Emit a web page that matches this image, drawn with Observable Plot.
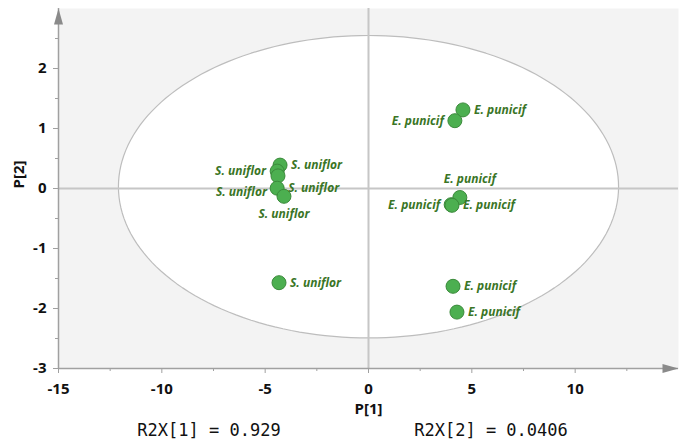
<!DOCTYPE html>
<html><head><meta charset="utf-8">
<script src="https://cdn.jsdelivr.net/npm/d3@7"></script>
<script src="https://cdn.jsdelivr.net/npm/@observablehq/plot@0.6"></script>
<style>
body{margin:0;background:#fff;}
#footer{position:relative;width:684px;height:21px;font-family:"DejaVu Sans Mono",monospace;font-size:17px;color:#111;}
#footer span{position:absolute;top:0;transform:translateX(-50%);white-space:pre;}
</style></head><body>
<div id="chart"></div>
<div id="footer"></div>
<script>
const species = ["S. uniflor","S. uniflor","S. uniflor","S. uniflor","S. uniflor","S. uniflor",
                 "E. punicif","E. punicif","E. punicif","E. punicif","E. punicif","E. punicif","E. punicif"];
const t1 = [-4.28,-4.42,-4.38,-4.42,-4.09,-4.33, 4.57,4.18,4.42,4.00,4.04,4.09,4.28];
const t2 = [0.39,0.29,0.21,0.005,-0.13,-1.57, 1.31,1.13,-0.15,-0.27,-0.28,-1.63,-2.06];
const labelPlacement = ["right","left","lowerleft","right","below","right",
                        "right","left","aboveright","left","right","right","right"];
const xDomain = [-15, 15];
const yDomain = [-3, 3];
const xTicks = [-15,-10,-5,0,5,10];
const xMinorTicks = [-12.5,-7.5,-2.5,2.5,7.5,12.5];
const yTicks = [-3,-2,-1,0,1,2];
const yMinorTicks = [-2.5,-1.5,-0.5,0.5,1.5,2.5];
const ellipseCenter = [0, 0.03];
const ellipseRadii = [12.1, 2.52];
const r2xNames = ["R2X[1]","R2X[2]"];
const r2xValues = ["0.929","0.0406"];
const axisNames = ["P[1]","P[2]"];

const obs = species.map((s,i)=>({species:s, t1:t1[i], t2:t2[i], place:labelPlacement[i]}));
const ellipse = d3.range(0, 361, 2).map(a => ({
  x: ellipseCenter[0] + ellipseRadii[0]*Math.cos(a*Math.PI/180),
  y: ellipseCenter[1] + ellipseRadii[1]*Math.sin(a*Math.PI/180)
}));
const arrowHead = {draw(ctx){ ctx.moveTo(0,0); ctx.lineTo(4.5,16); ctx.lineTo(-4.5,16); ctx.closePath(); }};
const placements = {
  right:{dx:11,dy:0,textAnchor:"start"},
  left:{dx:-11,dy:0,textAnchor:"end"},
  lowerleft:{dx:-11,dy:16,textAnchor:"end"},
  below:{dx:0,dy:18,textAnchor:"middle"},
  aboveright:{dx:10,dy:-18,textAnchor:"middle"}
};
const labelColor = "#3a7526";
const axisGray = "#a0a0a0";
const fmt = d => String(d);

const labelMarks = Object.entries(placements).map(([k,p]) =>
  Plot.text(obs.filter(d=>d.place===k), {x:"t1", y:"t2", text:"species", dx:p.dx, dy:p.dy,
    textAnchor:p.textAnchor, fill:labelColor, fontStyle:"italic", fontWeight:"bold", fontSize:12}));

const chart = Plot.plot({
  width: 684, height: 420,
  marginLeft: 58, marginRight: 6, marginTop: 8, marginBottom: 52,
  style: {fontFamily:"'Open Sans', sans-serif", fontSize:"15px", fontWeight:"bold", color:"#111", background:"#fff"},
  x: {domain: xDomain},
  y: {domain: yDomain},
  marks: [
    Plot.frame({fill:"#f3f3f3", stroke:null}),
    Plot.line(ellipse, {x:"x", y:"y", fill:"white", stroke:"#bdbdbd", strokeWidth:1.2}),
    Plot.ruleX([0], {stroke:"#c6c6c6", strokeWidth:2}),
    Plot.ruleY([0], {stroke:"#c6c6c6", strokeWidth:2}),
    Plot.axisX({ticks:xTicks, tickFormat:fmt, tickSize:5, tickPadding:10, stroke:axisGray, label:null, fontSize:15, fontWeight:"bold", fill:"#111"}),
    Plot.axisX({ticks:xMinorTicks, tickSize:3, stroke:axisGray, text:null, label:null}),
    Plot.axisY({ticks:yTicks, tickFormat:fmt, tickSize:5, tickPadding:7, stroke:axisGray, label:null, fontSize:15, fontWeight:"bold", fill:"#111"}),
    Plot.axisY({ticks:yMinorTicks, tickSize:3, stroke:axisGray, text:null, label:null}),
    Plot.ruleX([xDomain[0]], {stroke:axisGray, strokeWidth:1.5}),
    Plot.ruleY([yDomain[0]], {stroke:axisGray, strokeWidth:1.5}),
    Plot.dot([{x:xDomain[1], y:yDomain[0]}], {x:"x", y:"y", symbol:arrowHead, rotate:90, fill:"#8a8a8a", stroke:null}),
    Plot.dot([{x:xDomain[0], y:yDomain[1]}], {x:"x", y:"y", symbol:arrowHead, rotate:0, fill:"#8a8a8a", stroke:null}),
    Plot.text([axisNames[0]], {text:d=>d, frameAnchor:"bottom", dy:45, fontSize:15, fontWeight:"bold", fill:"#111"}),
    Plot.text([axisNames[1]], {text:d=>d, frameAnchor:"left", dx:-39, rotate:-90, fontSize:15, fontWeight:"bold", fill:"#111"}),
    Plot.dot(obs, {x:"t1", y:"t2", r:7, fill:"#4caf50", stroke:"#3b8a3b", strokeWidth:1}),
    ...labelMarks
  ]
});
document.getElementById("chart").appendChild(chart);
const footer = document.getElementById("footer");
const footerCenters = [209, 491];
r2xNames.forEach((n,i)=>{
  const s = document.createElement("span");
  s.textContent = `${n} = ${r2xValues[i]}`;
  s.style.left = footerCenters[i] + "px";
  footer.appendChild(s);
});
</script>
</body></html>
